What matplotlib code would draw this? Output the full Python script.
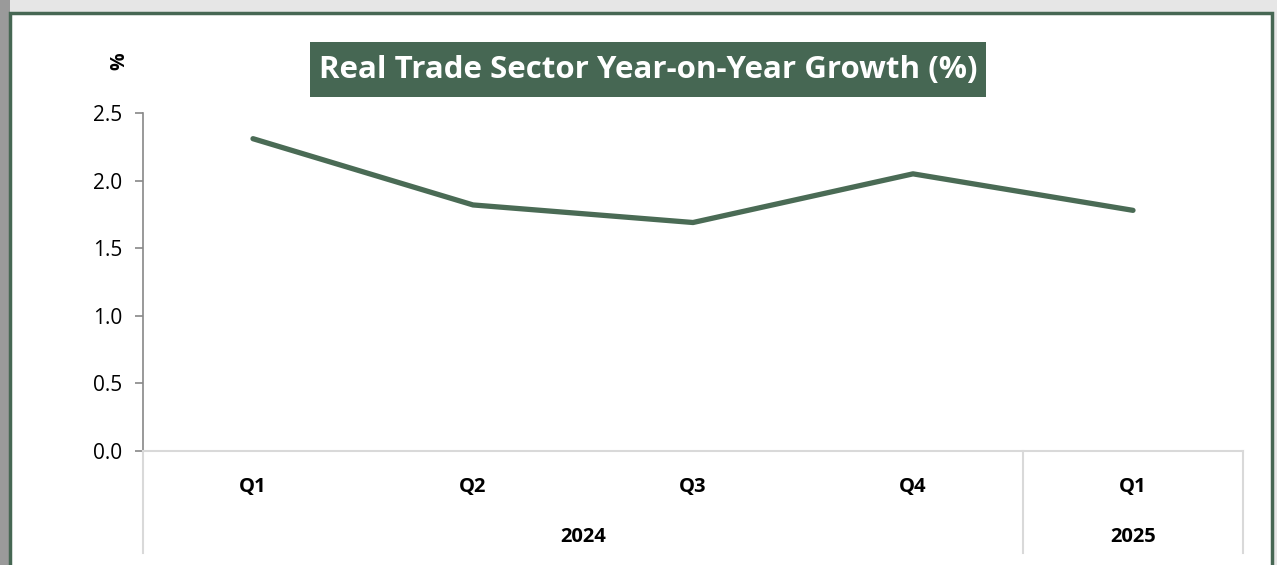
import matplotlib.pyplot as plt
from matplotlib.patches import Rectangle

quarters = ["Q1", "Q2", "Q3", "Q4", "Q1"]
years = ["2024", "2025"]
year_spans = [(0, 3), (4, 4)]
growth = [2.31, 1.82, 1.69, 2.05, 1.78]

green = "#466753"
W, H = 1277, 565

fig = plt.figure(figsize=(W / 100, H / 100), dpi=100)
plt.rcParams['font.family'] = ['Open Sans', 'DejaVu Sans']

# shadow and frame
fig.patches.append(Rectangle((0, 0), 1, 1, transform=fig.transFigure, facecolor="#e6e6e6", edgecolor="none", zorder=-3))
fig.patches.append(Rectangle((0, 0), 10 / W, 1, transform=fig.transFigure, facecolor="#9a9a9a", edgecolor="none", zorder=-2))
fig.patches.append(Rectangle((10 / W, -0.05), 1262 / W, 1.05 - 13 / H, transform=fig.transFigure,
                             facecolor="white", edgecolor=green, linewidth=2.5, zorder=-1))

ax = fig.add_axes([143 / W, (H - 451) / H, (1243 - 143) / W, (451 - 113) / H])
ax.set_facecolor("none")
x = list(range(len(growth)))
ax.plot(x, growth, color="#4a6b55", linewidth=3.8, solid_capstyle="round")
ax.set_xlim(-0.5, 4.5)
ax.set_ylim(0, 2.5)
ticks = [0, 0.5, 1.0, 1.5, 2.0, 2.5]
ax.set_yticks(ticks)
ax.set_yticklabels([f"{v:.1f}" for v in ticks], fontsize=15)
ax.tick_params(axis="y", direction="out", length=6, color="#888888", width=1.2, pad=9)
ax.set_xticks([])
for s in ["top", "right"]:
    ax.spines[s].set_visible(False)
ax.spines["left"].set_color("#888888")
ax.spines["left"].set_linewidth(1.2)
ax.spines["bottom"].set_color("#d9d9d9")
ax.spines["bottom"].set_linewidth(1.5)

# category axis
tr = ax.get_xaxis_transform()
for i, q in enumerate(quarters):
    ax.text(i, -36 / 338, q, transform=tr, ha="center", va="center", fontsize=14.5, fontweight="bold", clip_on=False)
for (a, b), yr in zip(year_spans, years):
    ax.text((a + b) / 2, -86 / 338, yr, transform=tr, ha="center", va="center", fontsize=14.5, fontweight="bold", clip_on=False)
for xv in [-0.5, 3.5, 4.5]:
    ax.plot([xv, xv], [0, -102 / 338], transform=tr, color="#d9d9d9", linewidth=1.5, clip_on=False)

fig.text(119 / W, (H - 61) / H, "%", rotation=90, ha="center", va="center", fontsize=14, fontweight="bold")

# title box
fig.patches.append(Rectangle((310 / W, (H - 97) / H), 676 / W, 55 / H, transform=fig.transFigure,
                             facecolor=green, edgecolor="none", zorder=1))
fig.text(648 / W, (H - 70) / H, "Real Trade Sector Year-on-Year Growth (%)", ha="center", va="center",
         fontsize=22.5, fontweight="bold", color="white", zorder=2)

fig.savefig("out.png", dpi=100)
